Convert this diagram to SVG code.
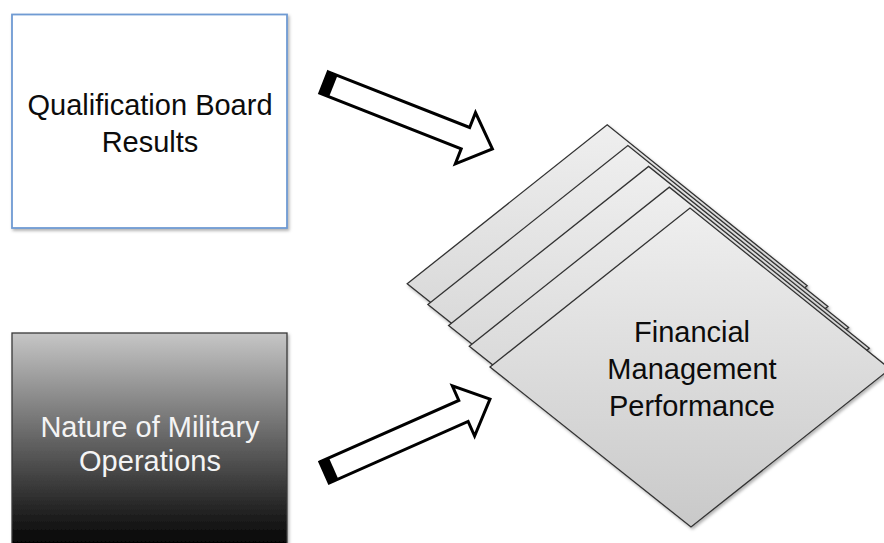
<svg xmlns="http://www.w3.org/2000/svg" width="884" height="543" viewBox="0 0 884 543">
  <defs>
    <linearGradient id="darkFill" x1="0" y1="0" x2="0" y2="1">
      <stop offset="0" stop-color="#c6c6c6"/>
      <stop offset="1" stop-color="#000000"/>
    </linearGradient>
    <linearGradient id="pageFill" x1="0" y1="0" x2="0" y2="1">
      <stop offset="0" stop-color="#efefef"/>
      <stop offset="1" stop-color="#c9c9c9"/>
    </linearGradient>
    <filter id="shadow" x="-10%" y="-10%" width="130%" height="130%">
      <feDropShadow dx="1.5" dy="2" stdDeviation="1.5" flood-color="#000" flood-opacity="0.3"/>
    </filter>
    <polygon id="page" points="490,367 690,208 890,369 691,527"/>
  </defs>
  <style>
    .label { font-family: "Liberation Sans", Arial, sans-serif; font-size: 29px; text-anchor: middle; }
    .dark { fill: #0c0c0c; }
    .light { fill: #f4f4f4; }
    .sheet { fill: url(#pageFill); stroke: #333; stroke-width: 1.3; filter: url(#shadow); }
    .arrow { fill: #fff; stroke: #000; stroke-width: 3; stroke-linejoin: miter; }
    .tail { fill: #000; }
  </style>

  <!-- input: qualification board -->
  <g id="qualification-board">
    <rect x="12" y="14.5" width="275" height="213.5" fill="#fff" stroke="#6f9bd3" stroke-width="1.8" filter="url(#shadow)"/>
    <text class="label dark" x="150" y="115">Qualification Board</text>
    <text class="label dark" x="150" y="152">Results</text>
  </g>

  <!-- input: military operations -->
  <g id="military-operations">
    <rect x="12" y="333" width="275" height="216" fill="url(#darkFill)" stroke="#3a3a3a" stroke-width="1.3" filter="url(#shadow)"/>
    <text class="label light" x="150" y="437">Nature of Military</text>
    <text class="label light" x="150" y="471">Operations</text>
  </g>

  <!-- output: stacked sheets -->
  <g id="financial-performance">
    <use href="#page" class="sheet" transform="translate(-82.8,-83.2)"/>
    <use href="#page" class="sheet" transform="translate(-62.1,-62.4)"/>
    <use href="#page" class="sheet" transform="translate(-41.4,-41.6)"/>
    <use href="#page" class="sheet" transform="translate(-20.7,-20.8)"/>
    <use href="#page" class="sheet"/>
    <text class="label dark" x="692" y="342">Financial</text>
    <text class="label dark" x="692" y="379">Management</text>
    <text class="label dark" x="692" y="416">Performance</text>
  </g>

  <!-- block arrows -->
  <g id="connectors">
    <g transform="translate(324,82.5) rotate(21.5)">
      <polygon class="arrow" points="0,-11.5 152,-11.5 152,-27.5 181,0 152,27.5 152,11.5 0,11.5"/>
      <rect class="tail" x="0" y="-11.5" width="10" height="23"/>
    </g>
    <g transform="translate(324.5,472.5) rotate(-23.9)">
      <polygon class="arrow" points="0,-11.5 152,-11.5 152,-27.5 181,0 152,27.5 152,11.5 0,11.5"/>
      <rect class="tail" x="0" y="-11.5" width="10" height="23"/>
    </g>
  </g>
</svg>
